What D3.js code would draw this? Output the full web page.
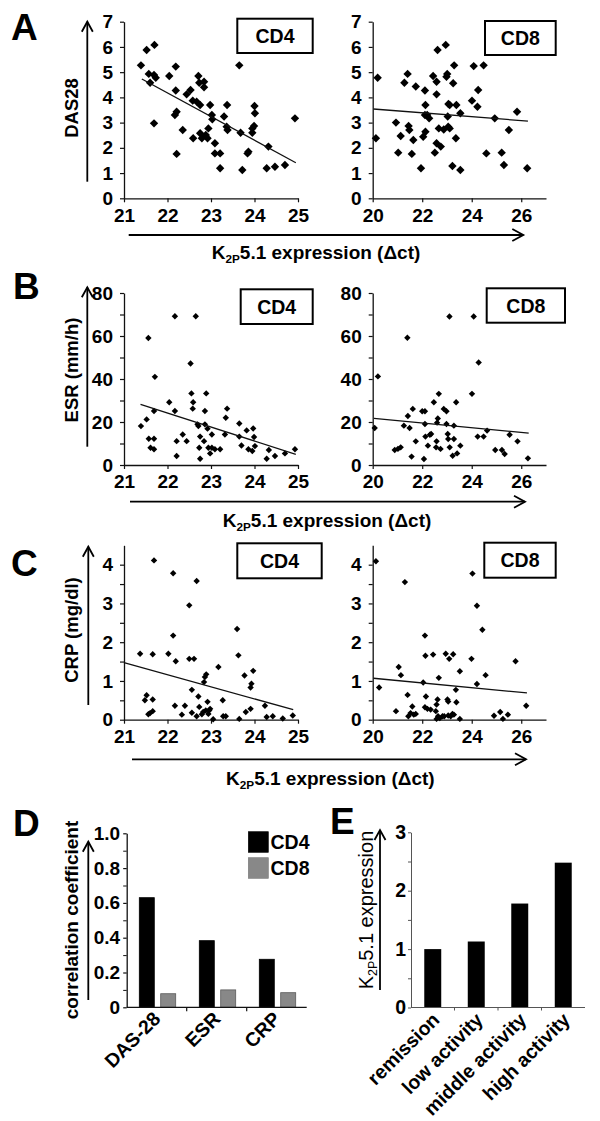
<!DOCTYPE html>
<html><head><meta charset="utf-8">
<script src="https://cdn.jsdelivr.net/npm/d3@7"></script>
<style>
body{margin:0;background:#fff;}
svg{display:block;}
</style></head><body>
<svg id="c" width="600" height="1121"></svg>
<script>
// ---------------- DATA ----------------
const cd4XTicks = [21,22,23,24,25];
const cd8XTicks = [20,22,24,26];
const das28Ticks = [0,1,2,3,4,5,6,7];
const esrTicks = [0,20,40,60,80];
const esrMinor = [10,30,50,70];
const crpTicks = [0,1,2,3,4];
const crpMinor = [0.5,1.5,2.5,3.5];

const das28CD4 = [[21.39,5.27],[21.52,5.88],[21.70,6.08],[21.57,4.93],[21.69,4.89],[21.73,4.78],[21.60,4.58],[21.69,2.97],[22.04,4.85],[22.19,5.22],[22.19,4.27],[22.17,3.30],[22.21,3.43],[22.21,1.76],[22.35,2.71],[22.44,4.12],[22.53,4.29],[22.58,3.87],[22.59,2.38],[22.67,3.83],[22.71,4.85],[22.73,4.58],[22.75,3.70],[22.75,2.58],[22.79,2.38],[22.84,4.62],[22.84,4.40],[22.88,2.51],[22.94,2.77],[22.92,2.38],[22.98,3.70],[23.02,3.30],[23.03,3.13],[23.09,2.18],[23.09,1.78],[23.21,1.78],[23.21,1.19],[23.30,3.24],[23.36,2.84],[23.37,3.70],[23.38,2.71],[23.65,5.27],[23.68,2.60],[23.72,1.12],[23.84,1.78],[23.86,1.85],[23.95,2.77],[23.95,2.60],[24.00,3.66],[24.01,3.37],[23.99,2.87],[24.32,2.05],[24.28,1.19],[24.47,1.25],[24.70,1.32],[24.93,3.17]];
const das28CD8 = [[20.20,4.78],[20.13,2.38],[20.94,3.00],[21.13,2.47],[21.03,1.81],[21.28,4.58],[21.41,4.93],[21.45,2.87],[21.48,2.71],[21.64,2.31],[21.58,1.76],[21.74,4.43],[21.95,1.19],[22.04,2.44],[22.11,4.27],[22.13,3.70],[22.11,3.30],[22.13,2.64],[22.20,3.30],[22.28,3.17],[22.44,4.85],[22.58,4.62],[22.58,4.12],[22.62,5.88],[22.95,6.08],[22.98,4.82],[23.01,4.93],[22.51,1.81],[22.58,2.18],[22.75,2.05],[22.67,2.77],[22.87,2.73],[23.05,2.84],[23.11,2.77],[23.03,3.24],[23.06,3.74],[23.25,4.56],[23.29,5.27],[23.11,3.70],[23.38,3.70],[23.54,3.37],[23.36,2.38],[23.22,1.28],[23.54,1.12],[24.08,5.24],[24.48,5.27],[24.26,4.29],[24.01,3.87],[24.23,3.63],[24.59,1.78],[24.93,3.17],[25.21,1.81],[25.30,1.32],[25.50,2.71],[25.83,3.43],[26.24,1.19]];
const esrCD4 = [[21.39,18.1],[21.52,21.2],[21.56,59.1],[21.71,41.0],[21.69,25.1],[21.57,12.2],[21.69,12.2],[21.61,8.0],[21.69,7.3],[22.04,29.2],[22.17,69.2],[22.17,25.1],[22.21,11.1],[22.21,4.2],[22.35,14.2],[22.44,11.1],[22.53,47.2],[22.55,33.3],[22.59,29.2],[22.58,26.2],[22.65,69.2],[22.69,18.9],[22.71,18.1],[22.75,13.2],[22.73,8.0],[22.75,2.9],[22.84,11.1],[22.86,25.1],[22.89,33.3],[22.86,18.9],[22.92,16.9],[22.94,8.0],[22.98,5.4],[23.02,14.2],[23.02,8.0],[23.09,7.3],[23.21,7.3],[23.32,14.2],[23.34,22.0],[23.37,26.2],[23.65,19.3],[23.65,13.2],[23.70,9.1],[23.82,16.1],[23.86,7.3],[23.95,6.5],[23.97,17.0],[23.99,13.0],[24.01,8.8],[24.28,2.9],[24.33,7.0],[24.47,4.2],[24.70,5.4],[24.93,7.3]];
const esrCD8 = [[20.08,17.2],[20.21,41.2],[20.89,7.0],[21.02,7.5],[21.13,8.2],[21.26,18.3],[21.40,59.2],[21.42,22.8],[21.49,17.2],[21.62,26.1],[21.57,3.9],[21.74,11.0],[22.00,25.0],[22.11,25.0],[22.11,19.1],[22.07,2.8],[22.13,13.2],[22.23,9.0],[22.31,14.1],[22.36,14.4],[22.47,29.2],[22.58,11.0],[22.56,8.2],[22.63,21.6],[22.60,19.7],[22.67,33.1],[22.74,7.5],[22.87,26.1],[22.98,25.0],[22.98,19.1],[23.03,14.4],[23.05,12.1],[23.10,69.1],[23.11,8.2],[23.28,12.1],[23.28,18.3],[23.23,4.3],[23.37,29.2],[23.41,5.4],[23.54,9.0],[24.01,33.1],[24.08,69.1],[24.28,47.7],[24.24,13.2],[24.48,13.2],[24.62,16.0],[24.95,7.0],[25.22,7.0],[25.33,5.1],[25.53,14.1],[25.85,11.0],[26.27,3.1]];
const crpCD4 = [[21.37,1.70],[21.52,0.63],[21.48,0.50],[21.66,0.52],[21.66,1.69],[21.69,4.11],[21.56,0.14],[21.60,0.17],[21.66,0.22],[22.02,1.70],[22.13,3.78],[22.13,2.17],[22.19,1.51],[22.17,0.36],[22.33,0.13],[22.40,0.36],[22.50,2.95],[22.50,1.57],[22.61,1.57],[22.56,0.77],[22.56,0.18],[22.67,3.58],[22.67,0.09],[22.71,0.60],[22.73,0.33],[22.79,0.14],[22.82,0.20],[22.84,0.97],[22.86,1.10],[22.89,1.17],[22.88,0.24],[22.92,0.46],[22.96,0.24],[22.98,0.28],[22.94,0.15],[23.05,0.01],[23.17,1.36],[23.27,0.50],[23.28,0.09],[23.34,0.09],[23.60,2.34],[23.63,1.66],[23.65,0.02],[23.77,1.14],[23.80,0.20],[23.91,0.28],[23.97,1.26],[23.93,0.93],[23.91,0.83],[24.24,0.36],[24.28,0.07],[24.42,0.09],[24.65,0.03],[24.88,0.11]];
const crpCD8 = [[20.13,4.09],[20.26,0.83],[20.94,0.22],[21.05,1.36],[21.14,1.15],[21.30,3.55],[21.41,0.64],[21.44,0.09],[21.53,0.17],[21.60,0.34],[21.66,0.13],[21.74,0.15],[22.04,0.96],[22.11,2.17],[22.13,1.65],[22.15,0.60],[22.11,0.32],[22.21,0.28],[22.34,0.26],[22.44,1.68],[22.55,0.22],[22.62,0.52],[22.58,0.39],[22.58,0.02],[22.67,1.08],[22.64,0.09],[22.71,0.04],[22.82,0.09],[22.89,0.09],[22.95,1.70],[23.02,0.52],[23.05,0.47],[23.09,1.57],[23.05,0.11],[23.15,0.09],[23.22,0.15],[23.25,1.69],[23.28,0.13],[23.36,0.77],[23.38,0.45],[23.52,1.25],[23.52,0.02],[23.99,1.57],[24.03,3.77],[24.21,0.92],[24.21,2.94],[24.43,2.32],[24.56,1.15],[24.90,0.10],[25.15,0.20],[25.26,0.02],[25.46,0.13],[25.77,1.51],[26.20,0.36]];

// regression lines [[x0,y0],[x1,y1]]
const das28CD4Trend = [[21.41,4.73],[24.95,1.41]];
const das28CD8Trend = [[20.03,3.54],[26.27,3.06]];
const esrCD4Trend = [[21.38,28.2],[24.95,4.95]];
const esrCD8Trend = [[20.05,21.7],[26.30,14.8]];
const crpCD4Trend = [[21.0,1.47],[24.89,0.26]];
const crpCD8Trend = [[20.03,1.07],[26.23,0.69]];

// panel D
const corrCategories = ["DAS-28","ESR","CRP"];
const corrSeries = ["CD4","CD8"];
const corrCD4 = [0.63,0.383,0.276];
const corrCD8 = [0.078,0.10,0.084];
const corrTicks = [0,0.2,0.4,0.6,0.8,1.0];
const corrMinor = [0.1,0.3,0.5,0.7,0.9];

// panel E
const activityCategories = ["remission","low activity","middle activity","high activity"];
const activityValues = [1.0,1.13,1.78,2.48];
const activityTicks = [0,1,2,3];
const activityMinor = [0.5,1.5,2.5];

// ---------------- DRAW ----------------
const FONT = '"Liberation Sans", Arial, Helvetica, sans-serif';
const svg = d3.select('#c').attr('font-family', FONT);
const INK = '#111';

function styleAxis(g, fs, weight) {
  g.attr('font-family', FONT).attr('font-size', fs).attr('font-weight', weight || 'bold');
  g.select('.domain').attr('stroke', INK).attr('stroke-width', 1.3);
  g.selectAll('.tick line').attr('stroke', INK).attr('stroke-width', 1.2);
  g.selectAll('.tick text').attr('fill', '#000');
}

function diamond(r){ return `M0,${-r}L${r},0L0,${r}L${-r},0Z`; }

function scatter(o) {
  const x = d3.scaleLinear().domain(o.xd).range(o.xr);
  const y = d3.scaleLinear().domain(o.yd).range(o.yr);
  const g = svg.append('g');
  const ya = g.append('g').attr('transform', `translate(${o.xr[0]},0)`)
    .call(d3.axisLeft(y).tickValues(o.yt).tickSize(4).tickPadding(7).tickSizeOuter(0).tickFormat(d3.format('d')));
  styleAxis(ya, 19);
  if (o.ym.length) {
    const ym = g.append('g').attr('transform', `translate(${o.xr[0]},0)`)
      .call(d3.axisLeft(y).tickValues(o.ym).tickSize(4).tickFormat(''));
    ym.select('.domain').remove();
    ym.selectAll('.tick line').attr('stroke', INK).attr('stroke-width', 1.2);
  }
  const xa = g.append('g').attr('transform', `translate(0,${o.yr[0]})`)
    .call(d3.axisBottom(x).tickValues(o.xt).tickSize(4).tickPadding(6).tickSizeOuter(0).tickFormat(d3.format('d')));
  styleAxis(xa, 19);
  g.append('g').selectAll('path').data(o.data).join('path')
    .attr('d', diamond(o.r))
    .attr('transform', d => `translate(${x(d[0])},${y(d[1])})`)
    .attr('fill', '#000');
  g.append('line')
    .attr('x1', x(o.trend[0][0])).attr('y1', y(o.trend[0][1]))
    .attr('x2', x(o.trend[1][0])).attr('y2', y(o.trend[1][1]))
    .attr('stroke', '#111').attr('stroke-width', 1.3);
  const b = o.box;
  g.append('rect').attr('x', b.x).attr('y', b.y).attr('width', b.w).attr('height', b.h)
    .attr('fill', '#fff').attr('stroke', '#000').attr('stroke-width', 2);
  g.append('text').attr('x', b.x + b.w/2).attr('y', b.y + b.h/2).attr('dy', '0.36em')
    .attr('text-anchor', 'middle').attr('font-size', 19.5).attr('font-weight', 'bold').text(b.t);
}

const L = [124, 298], R = [372.7, 546];
const yA = [198.3, 21.7], yB = [465, 293], yC = [719.7, 545.3];

scatter({data: das28CD4, trend: das28CD4Trend, xd:[21,25], xr:L, xt:cd4XTicks, yd:[0,7], yr:yA, yt:das28Ticks, ym:[], r:4.2, box:{x:237.3,y:18.7,w:75.4,h:34.3,t:'CD4'}});
scatter({data: das28CD8, trend: das28CD8Trend, xd:[20,27], xr:R, xt:cd8XTicks, yd:[0,7], yr:yA, yt:das28Ticks, ym:[], r:4.2, box:{x:485,y:21,w:70.7,h:34,t:'CD8'}});
scatter({data: esrCD4, trend: esrCD4Trend, xd:[21,25], xr:L, xt:cd4XTicks, yd:[0,80], yr:yB, yt:esrTicks, ym:esrMinor, r:3.2, box:{x:240.7,y:289.3,w:72,h:34.7,t:'CD4'}});
scatter({data: esrCD8, trend: esrCD8Trend, xd:[20,27], xr:R, xt:cd8XTicks, yd:[0,80], yr:yB, yt:esrTicks, ym:esrMinor, r:3.2, box:{x:486.7,y:288.3,w:78.3,h:34.4,t:'CD8'}});
scatter({data: crpCD4, trend: crpCD4Trend, xd:[21,25], xr:L, xt:cd4XTicks, yd:[0,4.5], yr:yC, yt:crpTicks, ym:crpMinor, r:3.2, box:{x:237.3,y:543.3,w:84.4,h:35,t:'CD4'}});
scatter({data: crpCD8, trend: crpCD8Trend, xd:[20,27], xr:R, xt:cd8XTicks, yd:[0,4.5], yr:yC, yt:crpTicks, ym:crpMinor, r:3.2, box:{x:484.3,y:542.7,w:71.4,h:35,t:'CD8'}});

// arrows
function hArrow(y, x0, x1) {
  svg.append('line').attr('x1', x0).attr('x2', x1).attr('y1', y).attr('y2', y).attr('stroke', '#000').attr('stroke-width', 1.8);
  svg.append('path').attr('d', `M${x1-11},${y-6}L${x1},${y}L${x1-11},${y+6}`).attr('fill', 'none').attr('stroke', '#000').attr('stroke-width', 1.8);
}
function vArrow(x, y0, y1) {
  svg.append('line').attr('x1', x).attr('x2', x).attr('y1', y0).attr('y2', y1).attr('stroke', '#000').attr('stroke-width', 1.8);
  svg.append('path').attr('d', `M${x-5.5},${y1+10}L${x},${y1}L${x+5.5},${y1+10}`).attr('fill', 'none').attr('stroke', '#000').attr('stroke-width', 1.8);
}
function k2pLabel(x, y, fs, weight, rotate, anchor) {
  const t = svg.append('text').attr('font-size', fs).attr('font-weight', weight).attr('text-anchor', anchor || 'start');
  if (rotate) t.attr('transform', `translate(${x},${y}) rotate(-90)`); else t.attr('x', x).attr('y', y);
  t.append('tspan').text('K');
  t.append('tspan').attr('font-size', fs*0.62).attr('dy', fs*0.22).text('2P');
  t.append('tspan').attr('dy', -fs*0.22).text(rotate ? '5.1 expression' : '5.1 expression (Δct)');
  return t;
}
hArrow(235, 128.7, 523.3);
hArrow(501.7, 130, 525);
hArrow(759.3, 132, 526);
k2pLabel(211.7, 259, 19, 'bold');
k2pLabel(222.7, 526.5, 19, 'bold');
k2pLabel(226, 785, 19, 'bold');

vArrow(87.3, 181.7, 21.7);
vArrow(87.3, 446.7, 287.3);
vArrow(88.3, 705, 546.7);
vArrow(88.3, 1000, 841.7);
vArrow(380, 990, 830);

function yLabel(x, y, text, fs, weight) {
  svg.append('text').attr('transform', `translate(${x},${y}) rotate(-90)`).attr('text-anchor', 'middle')
    .attr('font-size', fs).attr('font-weight', weight || 'bold').text(text);
}
yLabel(78, 108, 'DAS28', 18.5);
yLabel(78, 370, 'ESR (mm/h)', 18.5);
yLabel(78, 630, 'CRP (mg/dl)', 18.5);
yLabel(78, 920, 'correlation coefficient', 19);
k2pLabel(373, 910, 20, 'normal', true, 'middle');

// panel letters
[['A',11,40],['B',13,299],['C',11,576],['D',13,836],['E',330,834]].forEach(([t,x,y]) =>
  svg.append('text').attr('x', x).attr('y', y).attr('font-size', 37).attr('font-weight', 'bold').text(t));

// ---------------- Panel D ----------------
(function(){
  const x = d3.scaleBand().domain(corrCategories).range([126.7, 306.7]);
  const xi = d3.scaleBand().domain(corrSeries).range([12.6, 49]).paddingInner(0.3);
  const y = d3.scaleLinear().domain([0,1]).range([1007.3, 833.3]);
  const g = svg.append('g');
  const rows = corrCategories.map((c,i) => ({c, CD4: corrCD4[i], CD8: corrCD8[i]}));
  const color = {CD4:'#000', CD8:'#888'};
  rows.forEach(r => corrSeries.forEach(s => {
    g.append('rect').attr('x', x(r.c) + xi(s)).attr('width', xi.bandwidth())
      .attr('y', y(r[s])).attr('height', y(0) - y(r[s]))
      .attr('fill', color[s]).attr('stroke', s === 'CD8' ? '#5a5a5a' : '#000').attr('stroke-width', 0.8);
  }));
  const ya = g.append('g').attr('transform', `translate(126.7,0)`)
    .call(d3.axisLeft(y).tickValues(corrTicks).tickSize(3.5).tickPadding(3).tickSizeOuter(0)
      .tickFormat(d => d === 0 ? '0' : d3.format('.1f')(d)));
  styleAxis(ya, 19);
  const ym = g.append('g').attr('transform', `translate(126.7,0)`).call(d3.axisLeft(y).tickValues(corrMinor).tickSize(3.5).tickFormat(''));
  ym.select('.domain').remove(); ym.selectAll('.tick line').attr('stroke', INK);
  g.append('line').attr('x1', 126.7).attr('x2', 306.7).attr('y1', y(0)).attr('y2', y(0)).attr('stroke', INK).attr('stroke-width', 1.3);
  corrCategories.slice(1).forEach(c => g.append('line').attr('x1', x(c)).attr('x2', x(c)).attr('y1', y(0)).attr('y2', y(0)+4).attr('stroke', INK).attr('stroke-width', 1.2));
  corrCategories.forEach(c => {
    const cx = x(c) + x.bandwidth()/2 + 5;
    g.append('text').attr('transform', `translate(${cx},1020) rotate(-45)`).attr('text-anchor', 'end')
      .attr('font-size', 19.5).attr('font-weight', 'bold').text(c);
  });
  // legend
  corrSeries.forEach((s,i) => {
    g.append('rect').attr('x', 248.3).attr('y', 831.7 + i*26).attr('width', 20).attr('height', 20.6)
      .attr('fill', color[s]).attr('stroke', s === 'CD8' ? '#777' : '#000').attr('stroke-width', 0.6);
    g.append('text').attr('x', 270.5).attr('y', 848.5 + i*26).attr('font-size', 19.5).attr('font-weight', 'bold').text(s);
  });
})();

// ---------------- Panel E ----------------
(function(){
  const x = d3.scaleBand().domain(activityCategories).range([411, 585]).paddingInner(0.61).paddingOuter(0.305);
  const y = d3.scaleLinear().domain([0,3]).range([1007.5, 832.3]);
  const g = svg.append('g');
  g.selectAll('rect').data(activityCategories).join('rect')
    .attr('x', c => x(c)).attr('width', x.bandwidth())
    .attr('y', (c,i) => y(activityValues[i])).attr('height', (c,i) => y(0) - y(activityValues[i]))
    .attr('fill', '#000');
  const ya = g.append('g').attr('transform', `translate(411,0)`)
    .call(d3.axisLeft(y).tickValues(activityTicks).tickSize(3).tickPadding(2).tickSizeOuter(0).tickFormat(d3.format('d')));
  styleAxis(ya, 19.5);
  ya.select('.domain').attr('stroke', '#555').attr('stroke-width', 1);
  ya.selectAll('.tick line').attr('stroke', '#555').attr('stroke-width', 1);
  const ym = g.append('g').attr('transform', `translate(411,0)`).call(d3.axisLeft(y).tickValues(activityMinor).tickSize(3).tickFormat(''));
  ym.select('.domain').remove(); ym.selectAll('.tick line').attr('stroke', '#555');
  g.append('line').attr('x1', 411).attr('x2', 585).attr('y1', y(0)).attr('y2', y(0)).attr('stroke', '#555').attr('stroke-width', 1);
  const gap = (x.step() - x.bandwidth())/2;
  activityCategories.slice(1).forEach(c => g.append('line').attr('x1', x(c)-gap).attr('x2', x(c)-gap).attr('y1', y(0)).attr('y2', y(0)+3).attr('stroke', '#555'));
  activityCategories.forEach(c => {
    const cx = x(c) + x.bandwidth()/2 + 8;
    g.append('text').attr('transform', `translate(${cx},1021) rotate(-45)`).attr('text-anchor', 'end')
      .attr('font-size', 19.5).attr('font-weight', 'bold').text(c);
  });
})();
</script>
</body></html>
